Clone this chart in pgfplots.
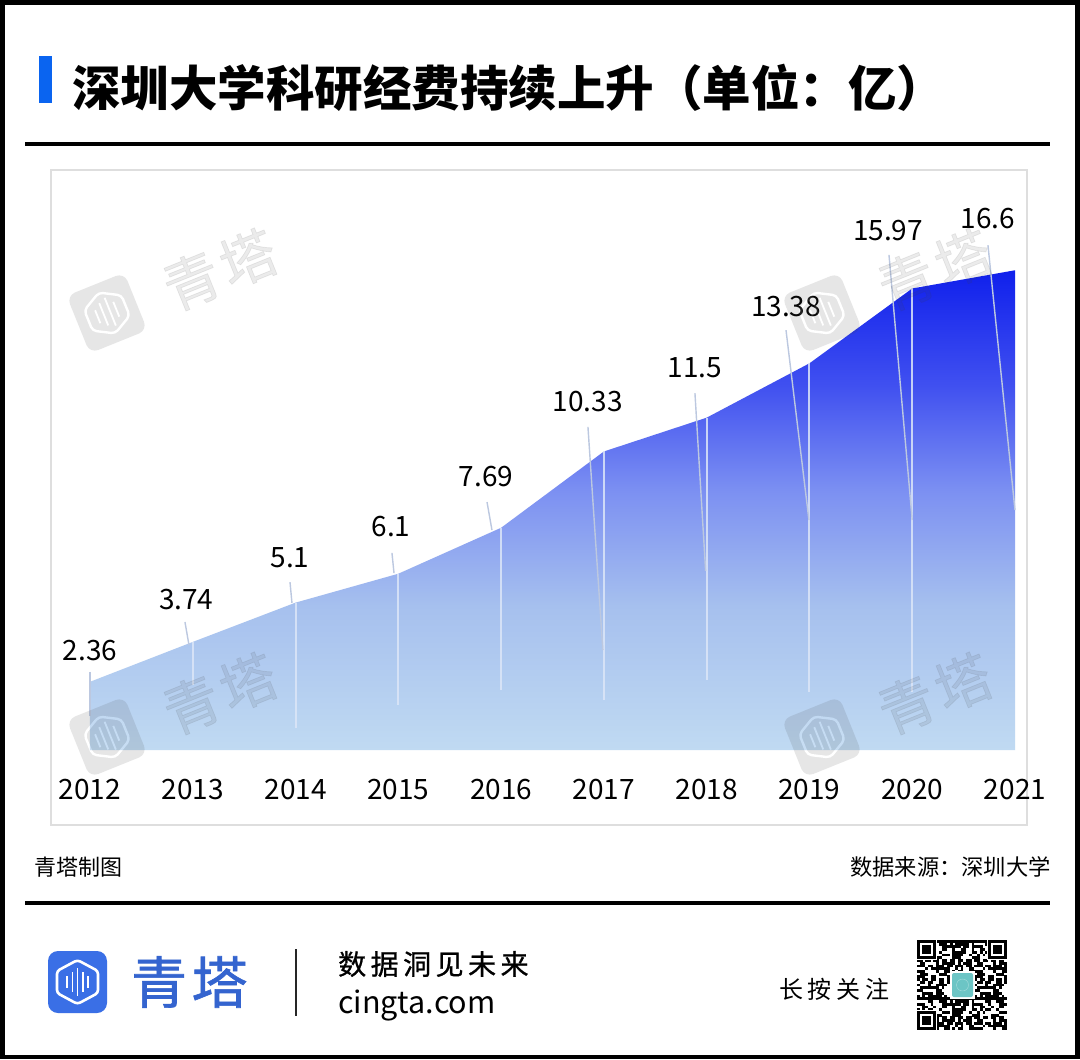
\documentclass[border=0pt]{standalone}
\usepackage{pgfplots}
\usepackage{pgfplotstable}
\pgfplotsset{compat=1.18}
\usepackage{fontspec}
\setmainfont{Noto Sans CJK SC}
\newfontfamily\widea[LetterSpace=16,FakeBold=.9]{Noto Sans CJK SC}
\newfontfamily\wideb[LetterSpace=20]{Noto Sans CJK SC}
\newfontfamily\widec[LetterSpace=8,FakeBold=1.2]{Noto Sans CJK SC}
\newcommand{\fs}[1]{\fontsize{#1}{#1}\selectfont}

\definecolor{brandblue}{HTML}{3A6FE6}
\definecolor{barblue}{HTML}{0A64F0}
\definecolor{cardline}{HTML}{DEDEDE}
\definecolor{slant}{HTML}{BCC8E0}
\definecolor{vert}{HTML}{DCE6F8}
\definecolor{teal}{HTML}{6CC5C5}

% area gradient, 25bp = bottom of the area, 75bp = top
\definecolor{g0}{HTML}{C0DAF2}
\definecolor{g1}{HTML}{A6C0EE}
\definecolor{g2}{HTML}{7C90F2}
\definecolor{g3}{HTML}{4050F0}
\definecolor{g4}{HTML}{1020EC}
\pgfdeclareverticalshading{areagrad}{100bp}{
  color(0bp)=(g0); color(25bp)=(g0); color(40bp)=(g1);
  color(52bp)=(g2); color(63bp)=(g3); color(75bp)=(g4); color(100bp)=(g4)}

% year index, value, label offset from the point (px), label
\pgfplotstableread{
x y dx dy lab
0 2.36 0 31 2.36
1 3.74 -6.5 42 3.74
2 5.1 -5.6 44.6 5.1
3 6.1 -7.3 46.7 6.1
4 7.69 -15 50.8 7.69
5 10.33 -16 49.5 10.33
6 11.5 -11.7 49.6 11.5
7 13.38 -23.4 57.3 13.38
8 15.97 -24.2 57.5 15.97
9 16.6 -27 51.3 16.6
}\funding

% watermark: centre of logo at #1,#2
\newcommand{\wmark}[2]{%
  \begin{scope}[shift={(#1,#2)},rotate=22]
    \begin{scope}[transparency group,opacity=.13]
      \fill[black!75,rounded corners=9pt] (-31,-31) rectangle (31,31);
      \draw[white,line width=2.4pt,rounded corners=4pt] (0,-22) -- (20,-11) -- (20,11) -- (0,22) -- (-20,11) -- (-20,-11) -- cycle;
      \foreach \bx/\bh in {-10/7,-3.5/12,3.5/15,10/8}
        \draw[white,line width=1.8pt] (\bx,-\bh) -- (\bx,\bh);
    \end{scope}
    \node[black!75,opacity=.1,rotate=22,inner sep=0] at (121,2) {\widec\fs{56}青塔};
  \end{scope}}

\begin{document}
\begin{tikzpicture}[x=1pt,y=-1pt]
\path[use as bounding box] (0,0) rectangle (1080,1060);
\fill[white] (0,0) rectangle (1080,1060);
\draw[black,line width=4.5pt] (2.25,2.25) rectangle (1077.25,1057);

% header
\fill[barblue] (39,56) rectangle (52,103);
\node[anchor=west,inner sep=0] at (72,88) {\fs{48.5}\bfseries 深圳大学科研经费持续上升（单位：亿）};
\draw[black,line width=3.5pt] (25,144) -- (1050,144);

% card
\draw[cardline,line width=1.4pt] (51,170) rectangle (1027,825);

\begin{axis}[
  at={(90pt,-750pt)}, anchor=south west,
  scale only axis, width=925pt, height=479.74pt,
  xmin=0, xmax=9, ymin=0, ymax=16.6,
  clip=false, no markers,
  axis y line=none, axis x line*=bottom,
  x axis line style={draw=none,-},
  xtick={0,...,9},
  xticklabels={2012,2013,2014,2015,2016,2017,2018,2019,2020,2021},
  major tick length=0pt,
  xticklabel style={anchor=center,yshift=-39.5pt,font=\fs{28}},
]
\addplot[draw=none,shading=areagrad] table[x=x,y=y]{\funding} \closedcycle;

% vertical drop lines
\addplot[vert,line width=2pt,opacity=.85] coordinates {(1,3.74)(1,2.25)};
\addplot[vert,line width=2pt,opacity=.85] coordinates {(2,5.1)(2,.76)};
\addplot[vert,line width=2pt,opacity=.85] coordinates {(3,6.1)(3,1.56)};
\addplot[vert,line width=2pt,opacity=.85] coordinates {(4,7.69)(4,2.08)};
\addplot[vert,line width=2pt,opacity=.85] coordinates {(5,10.33)(5,1.73)};
\addplot[vert,line width=2pt,opacity=.85] coordinates {(6,11.5)(6,2.42)};
\addplot[vert,line width=2pt,opacity=.85] coordinates {(7,13.38)(7,2)};
\addplot[vert,line width=2pt,opacity=.85] coordinates {(8,15.97)(8,2)};

% slanted leader lines from the labels
\addplot[slant,line width=1.4pt] coordinates {(0,2.7)(0,1.18)};
\addplot[slant,line width=1.4pt] coordinates {(.924,4.43)(.963,3.63)};
\addplot[slant,line width=1.4pt] coordinates {(1.946,5.81)(1.965,5.09)};
\addplot[slant,line width=1.4pt] coordinates {(2.938,6.82)(2.958,6.12)};
\addplot[slant,line width=1.4pt] coordinates {(3.863,8.58)(3.911,7.61)};
\addplot[slant,line width=1.4pt] coordinates {(4.845,11.18)(4.99,3.46)};
\addplot[slant,line width=1.4pt] coordinates {(5.886,12.35)(5.99,6.2)};
\addplot[slant,line width=1.4pt] coordinates {(6.772,14.53)(6.995,7.96)};
\addplot[slant,line width=1.4pt] coordinates {(7.774,17.13)(8,7.96)};
\addplot[slant,line width=1.4pt] coordinates {(8.737,17.47)(9,8.3)};

% value labels
\addplot[draw=none,
  visualization depends on={\thisrow{dx}\as\ldx},
  visualization depends on={\thisrow{dy}\as\ldy},
  point meta=explicit symbolic,
  nodes near coords={\pgfplotspointmeta},
  nodes near coords style={anchor=center,inner sep=0,text=black,font=\fs{28},xshift=\ldx pt,yshift=\ldy pt},
] table[x=x,y=y,meta=lab]{\funding};
\end{axis}

% watermarks over the chart
\wmark{107}{313}
\wmark{107}{737}
\wmark{822}{313}
\wmark{822}{737}

% source lines
\node[anchor=west,inner sep=0] at (34,867) {\fs{22}青塔制图};
\node[anchor=east,inner sep=0] at (1051,867) {\fs{22.3}数据来源：深圳大学};
\draw[black,line width=3.5pt] (25,903) -- (1050,903);

% brand logo
\fill[brandblue,rounded corners=10pt] (48,951) rectangle (107,1013);
\draw[white,line width=2.6pt,rounded corners=3pt] (77.5,960) -- (98,971) -- (98,993) -- (77.5,1004) -- (57,993) -- (57,971) -- cycle;
\foreach \bx/\bh in {67/6,72.5/10,77.5/14,83/10,88/6}
  \draw[white,line width=1.8pt] (\bx,982-\bh) -- (\bx,982+\bh);
\node[anchor=west,inner sep=0,text=brandblue!90!black] at (131,982) {\widec\fs{56}青塔};
\draw[black!85,line width=1.6pt] (296,949) -- (296,1016);
\node[anchor=west,inner sep=0] at (338,964) {\widea\fs{28}数据洞见未来};
\node[anchor=west,inner sep=0] at (338,1005) {\fs{30.5}cingta.com};
\node[anchor=west,inner sep=0] at (779,989) {\wideb\fs{24}长按关注};

% QR code (decorative)
\begin{scope}[shift={(917,940)}]
  \foreach \i in {0,...,32}
    \foreach \j in {0,...,32} {
      \edef\qn{\the\numexpr \i*\i*\j*3+\j*\j*\i*5+\i*7+\j*11+(\i*\j)/3\relax}
      \edef\qr{\the\numexpr \qn-7*((\qn-3)/7)\relax}
      \ifnum\qr<4
        \fill[black] (\i*2.73,\j*2.73) rectangle ++(2.8,2.8);
      \fi
    }
  \foreach \qx/\qy in {0/0,71/0,0/71} {
    \fill[white] (\qx-1,\qy-1) rectangle ++(21,21);
    \fill[black] (\qx,\qy) rectangle ++(19,19);
    \fill[white] (\qx+2.7,\qy+2.7) rectangle ++(13.6,13.6);
    \fill[black] (\qx+5.4,\qy+5.4) rectangle ++(8.2,8.2);
  }
  \fill[white] (33,31) rectangle (58,59);
  \fill[teal,rounded corners=2pt] (35,33) rectangle (56,57);
  \draw[white,opacity=.4] (45.5,45) circle (6);
\end{scope}
\end{tikzpicture}
\end{document}
